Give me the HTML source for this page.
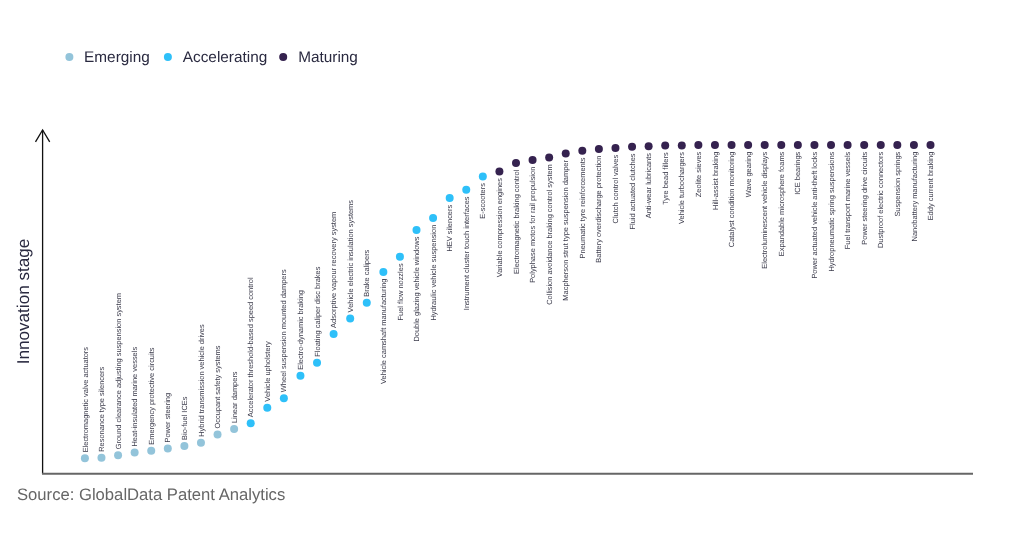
<!DOCTYPE html>
<html><head><meta charset="utf-8"><style>
html,body{margin:0;padding:0;background:#fff;}
body{width:1024px;height:538px;overflow:hidden;}
svg{display:block;will-change:transform;text-rendering:geometricPrecision;font-family:"Liberation Sans",sans-serif;}
.lbl text{font-size:7.45px;fill:#3a3a4a;}
</style></head><body>
<svg width="1024" height="538" viewBox="0 0 1024 538">

<g>
<circle cx="69.4" cy="56.9" r="4" fill="#93c4da"/>
<text x="84.1" y="62.4" font-size="15.35" fill="#2a2a40">Emerging</text>
<circle cx="167.9" cy="57" r="4" fill="#2ec0f9"/>
<text x="182.8" y="62.4" font-size="15.35" fill="#2a2a40">Accelerating</text>
<circle cx="283.2" cy="56.9" r="4" fill="#35224f"/>
<text x="298.2" y="62.4" font-size="15.35" fill="#2a2a40">Maturing</text>
</g>
<g stroke="#111" stroke-width="1.3" fill="none">
<line x1="42.6" y1="130" x2="42.6" y2="474"/>
<polyline points="35.5,141.9 42.6,130 49.7,141.9"/>
</g>
<line x1="42" y1="473.8" x2="973" y2="473.8" stroke="#666" stroke-width="2"/>
<text transform="translate(28.6,364.2) rotate(-90)" font-size="17.1" fill="#2a2a40">Innovation stage</text>
<text x="17" y="499.6" font-size="16.65" fill="#666">Source: GlobalData Patent Analytics</text>
<g class="lbl">
<circle cx="84.90" cy="458.35" r="4" fill="#93c4da"/>
<circle cx="101.48" cy="457.85" r="4" fill="#93c4da"/>
<circle cx="118.06" cy="455.30" r="4" fill="#93c4da"/>
<circle cx="134.64" cy="452.50" r="4" fill="#93c4da"/>
<circle cx="151.22" cy="450.70" r="4" fill="#93c4da"/>
<circle cx="167.80" cy="448.50" r="4" fill="#93c4da"/>
<circle cx="184.38" cy="445.95" r="4" fill="#93c4da"/>
<circle cx="200.96" cy="442.75" r="4" fill="#93c4da"/>
<circle cx="217.54" cy="434.55" r="4" fill="#93c4da"/>
<circle cx="234.12" cy="429.10" r="4" fill="#93c4da"/>
<circle cx="250.70" cy="423.15" r="4" fill="#2ec0f9"/>
<circle cx="267.28" cy="407.65" r="4" fill="#2ec0f9"/>
<circle cx="283.86" cy="398.15" r="4" fill="#2ec0f9"/>
<circle cx="300.45" cy="375.80" r="4" fill="#2ec0f9"/>
<circle cx="317.03" cy="362.70" r="4" fill="#2ec0f9"/>
<circle cx="333.61" cy="333.90" r="4" fill="#2ec0f9"/>
<circle cx="350.19" cy="318.40" r="4" fill="#2ec0f9"/>
<circle cx="366.77" cy="302.80" r="4" fill="#2ec0f9"/>
<circle cx="383.35" cy="271.90" r="4" fill="#2ec0f9"/>
<circle cx="399.93" cy="256.70" r="4" fill="#2ec0f9"/>
<circle cx="416.51" cy="229.90" r="4" fill="#2ec0f9"/>
<circle cx="433.09" cy="218.00" r="4" fill="#2ec0f9"/>
<circle cx="449.67" cy="198.10" r="4" fill="#2ec0f9"/>
<circle cx="466.25" cy="189.80" r="4" fill="#2ec0f9"/>
<circle cx="482.83" cy="176.40" r="4" fill="#2ec0f9"/>
<circle cx="499.41" cy="171.40" r="4" fill="#35224f"/>
<circle cx="515.99" cy="163.10" r="4" fill="#35224f"/>
<circle cx="532.57" cy="160.00" r="4" fill="#35224f"/>
<circle cx="549.15" cy="157.50" r="4" fill="#35224f"/>
<circle cx="565.73" cy="153.40" r="4" fill="#35224f"/>
<circle cx="582.31" cy="150.80" r="4" fill="#35224f"/>
<circle cx="598.89" cy="148.90" r="4" fill="#35224f"/>
<circle cx="615.47" cy="148.10" r="4" fill="#35224f"/>
<circle cx="632.05" cy="146.70" r="4" fill="#35224f"/>
<circle cx="648.63" cy="146.30" r="4" fill="#35224f"/>
<circle cx="665.21" cy="145.60" r="4" fill="#35224f"/>
<circle cx="681.79" cy="145.40" r="4" fill="#35224f"/>
<circle cx="698.37" cy="145.00" r="4" fill="#35224f"/>
<circle cx="714.95" cy="145.00" r="4" fill="#35224f"/>
<circle cx="731.54" cy="145.00" r="4" fill="#35224f"/>
<circle cx="748.12" cy="145.00" r="4" fill="#35224f"/>
<circle cx="764.70" cy="145.00" r="4" fill="#35224f"/>
<circle cx="781.28" cy="145.00" r="4" fill="#35224f"/>
<circle cx="797.86" cy="145.00" r="4" fill="#35224f"/>
<circle cx="814.44" cy="145.00" r="4" fill="#35224f"/>
<circle cx="831.02" cy="145.00" r="4" fill="#35224f"/>
<circle cx="847.60" cy="145.00" r="4" fill="#35224f"/>
<circle cx="864.18" cy="145.00" r="4" fill="#35224f"/>
<circle cx="880.76" cy="145.00" r="4" fill="#35224f"/>
<circle cx="897.34" cy="145.00" r="4" fill="#35224f"/>
<circle cx="913.92" cy="145.00" r="4" fill="#35224f"/>
<circle cx="930.50" cy="145.00" r="4" fill="#35224f"/>
<text transform="translate(87.50,452.35) rotate(-90)">Electromagnetic valve actuators</text>
<text transform="translate(104.08,451.85) rotate(-90)">Resonance type silencers</text>
<text transform="translate(120.66,449.30) rotate(-90)">Ground clearance adjusting suspension system</text>
<text transform="translate(137.24,446.50) rotate(-90)">Heat-insulated marine vessels</text>
<text transform="translate(153.82,444.70) rotate(-90)">Emergency protective circuits</text>
<text transform="translate(170.40,442.50) rotate(-90)">Power steering</text>
<text transform="translate(186.98,439.95) rotate(-90)">Bio-fuel ICEs</text>
<text transform="translate(203.56,436.75) rotate(-90)">Hybrid transmission vehicle drives</text>
<text transform="translate(220.14,428.55) rotate(-90)">Occupant safety systems</text>
<text transform="translate(236.72,423.10) rotate(-90)">Linear dampers</text>
<text transform="translate(253.30,417.15) rotate(-90)">Accelerator threshold-based speed control</text>
<text transform="translate(269.88,401.65) rotate(-90)">Vehicle upholstery</text>
<text transform="translate(286.46,392.15) rotate(-90)">Wheel suspension mounted dampers</text>
<text transform="translate(303.05,369.80) rotate(-90)">Electro-dynamic braking</text>
<text transform="translate(319.63,356.70) rotate(-90)">Floating caliper disc brakes</text>
<text transform="translate(336.21,327.90) rotate(-90)">Adsorptive vapour recovery system</text>
<text transform="translate(352.79,312.40) rotate(-90)">Vehicle electric insulation systems</text>
<text transform="translate(369.37,296.80) rotate(-90)">Brake calipers</text>
<text text-anchor="end" transform="translate(385.95,278.60) rotate(-90)">Vehicle camshaft manufacturing</text>
<text text-anchor="end" transform="translate(402.53,263.40) rotate(-90)">Fuel flow nozzles</text>
<text text-anchor="end" transform="translate(419.11,236.60) rotate(-90)">Double glazing vehicle windows</text>
<text text-anchor="end" transform="translate(435.69,224.70) rotate(-90)">Hydraulic vehicle suspension</text>
<text text-anchor="end" transform="translate(452.27,204.80) rotate(-90)">HEV silencers</text>
<text text-anchor="end" transform="translate(468.85,196.50) rotate(-90)">Instrument cluster touch interfaces</text>
<text text-anchor="end" transform="translate(485.43,183.10) rotate(-90)">E-scooters</text>
<text text-anchor="end" transform="translate(502.01,178.10) rotate(-90)">Variable compression engines</text>
<text text-anchor="end" transform="translate(518.59,169.80) rotate(-90)">Electromagnetic braking control</text>
<text text-anchor="end" transform="translate(535.17,166.70) rotate(-90)">Polyphase motos for rail propulsion</text>
<text text-anchor="end" transform="translate(551.75,164.20) rotate(-90)">Collision avoidance braking control system</text>
<text text-anchor="end" transform="translate(568.33,160.10) rotate(-90)">Macpherson strut type suspension damper</text>
<text text-anchor="end" transform="translate(584.91,157.50) rotate(-90)">Pneumatic tyre reinforcements</text>
<text text-anchor="end" transform="translate(601.49,155.60) rotate(-90)">Battery overdischarge protection</text>
<text text-anchor="end" transform="translate(618.07,154.80) rotate(-90)">Clutch control valves</text>
<text text-anchor="end" transform="translate(634.65,153.40) rotate(-90)">Fluid actuated clutches</text>
<text text-anchor="end" transform="translate(651.23,153.00) rotate(-90)">Anti-wear lubricants</text>
<text text-anchor="end" transform="translate(667.81,152.30) rotate(-90)">Tyre bead fillers</text>
<text text-anchor="end" transform="translate(684.39,152.10) rotate(-90)">Vehicle turbochargers</text>
<text text-anchor="end" transform="translate(700.97,151.70) rotate(-90)">Zeolite sieves</text>
<text text-anchor="end" transform="translate(717.55,151.70) rotate(-90)">Hill-assist braking</text>
<text text-anchor="end" transform="translate(734.14,151.70) rotate(-90)">Catalyst condition monitoring</text>
<text text-anchor="end" transform="translate(750.72,151.70) rotate(-90)">Wave gearing</text>
<text text-anchor="end" transform="translate(767.30,151.70) rotate(-90)">Electroluminescent vehicle displays</text>
<text text-anchor="end" transform="translate(783.88,151.70) rotate(-90)">Expandable microsphere foams</text>
<text text-anchor="end" transform="translate(800.46,151.70) rotate(-90)">ICE bearings</text>
<text text-anchor="end" transform="translate(817.04,151.70) rotate(-90)">Power actuated vehicle anti-theft locks</text>
<text text-anchor="end" transform="translate(833.62,151.70) rotate(-90)">Hydropneumatic spring suspensions</text>
<text text-anchor="end" transform="translate(850.20,151.70) rotate(-90)">Fuel transport marine vessels</text>
<text text-anchor="end" transform="translate(866.78,151.70) rotate(-90)">Power steering drive circuits</text>
<text text-anchor="end" transform="translate(883.36,151.70) rotate(-90)">Dustproof electric connectors</text>
<text text-anchor="end" transform="translate(899.94,151.70) rotate(-90)">Suspension springs</text>
<text text-anchor="end" transform="translate(916.52,151.70) rotate(-90)">Nanobattery manufacturing</text>
<text text-anchor="end" transform="translate(933.10,151.70) rotate(-90)">Eddy current braking</text>
</g>
</svg>
</body></html>
